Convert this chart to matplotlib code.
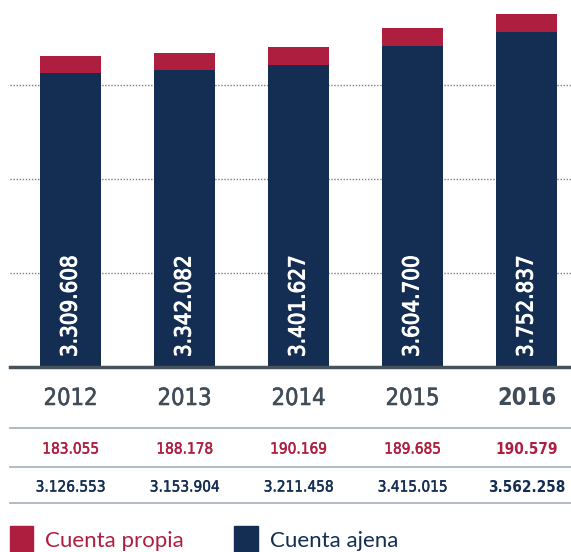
import matplotlib
matplotlib.use('Agg')
import matplotlib.pyplot as plt
import matplotlib.patheffects as pe
from matplotlib.patches import Rectangle
from matplotlib.lines import Line2D
from matplotlib.transforms import blended_transform_factory, offset_copy

# Datos
years = ['2012', '2013', '2014', '2015', '2016']
cuenta_propia = [183055, 188178, 190169, 189685, 190579]
cuenta_ajena = [3126553, 3153904, 3211458, 3415015, 3562258]
totales = ['3.309.608', '3.342.082', '3.401.627', '3.604.700', '3.752.837']
propia_labels = ['183.055', '188.178', '190.169', '189.685', '190.579']
ajena_labels = ['3.126.553', '3.153.904', '3.211.458', '3.415.015', '3.562.258']

RED = '#ae1e3f'
NAVY = '#132d53'
GREY = '#404c57'
cond = dict(family='DejaVu Sans', stretch='condensed')

W, H = 571, 552
fig = plt.figure(figsize=(W / 100, H / 100), dpi=100)

def fy(y):
    # pixel desde arriba -> fraccion de figura
    return 1 - y / H

def heavy(color, lw=0.35, last=False):
    # engrosa un poco el trazo (peso "medium"); el ultimo año va en negrita sin trazo
    if last:
        return []
    return [pe.withStroke(linewidth=lw, foreground=color)]

ax = fig.add_axes([10 / W, fy(367), 561 / W, 367 / H])
x = list(range(len(years)))
ax.bar(x, cuenta_ajena, width=0.535, color=NAVY, zorder=2)
ax.bar(x, cuenta_propia, bottom=cuenta_ajena, width=0.535, color=RED, zorder=2)
ax.set_xlim(-0.531, 4.39)
ax.set_ylim(0, 3.9e6)
for g in [1e6, 2e6, 3e6]:
    ax.axhline(g, color='#7a8088', lw=1.0, ls=(0, (1, 1.2)), zorder=1)
ax.axhline(0, color='#46525c', lw=2.5, zorder=3, clip_on=False)
ax.axis('off')

# totales dentro de las barras
lab_tr = offset_copy(ax.transData, fig=fig, x=0, y=10, units='dots')
for i, t in enumerate(totales):
    ax.text(i, 0, t, rotation=90, ha='center', va='bottom', color='white',
            fontsize=16, transform=lab_tr, zorder=4, path_effects=heavy('white', 0.7), **cond)

# tabla inferior
tr = blended_transform_factory(ax.transData, fig.transFigure)
for i in x:
    last = i == len(years) - 1
    w = 'bold' if last else 'normal'
    ax.text(i, fy(398), years[i], ha='center', va='center', color=GREY,
            fontsize=17, weight=w, transform=tr, path_effects=heavy(GREY, 0.4, last), **cond)
    ax.text(i, fy(449), propia_labels[i], ha='center', va='center', color=RED,
            fontsize=11, weight=w, transform=tr, path_effects=heavy(RED, 0.3, last), **cond)
    ax.text(i, fy(487), ajena_labels[i], ha='center', va='center', color=NAVY,
            fontsize=11, weight=w, transform=tr, path_effects=heavy(NAVY, 0.3, last), **cond)

for yl in [428, 467, 503]:
    fig.add_artist(Line2D([10 / W, 1], [fy(yl), fy(yl)], color='#a7aeb6', lw=1.2))

# leyenda
fig.add_artist(Rectangle((10 / W, fy(556)), 23 / W, 30 / H, color=RED))
fig.text(45 / W, fy(547), 'Cuenta propia', color=RED, fontsize=16, family='Lato', va='baseline')
fig.add_artist(Rectangle((234 / W, fy(556)), 24 / W, 30 / H, color=NAVY))
fig.text(270 / W, fy(547), 'Cuenta ajena', color=NAVY, fontsize=16, family='Lato', va='baseline')

fig.savefig('out.png', dpi=100)
